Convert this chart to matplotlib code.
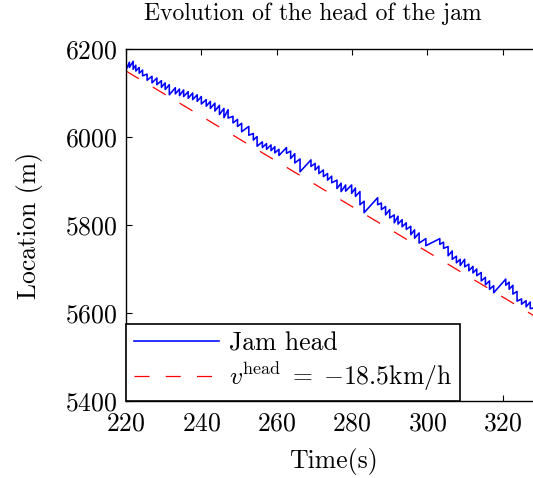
import numpy as np
import matplotlib.pyplot as plt

plt.rcParams['font.family'] = 'serif'
plt.rcParams['font.serif'] = ['cmr10']
plt.rcParams['mathtext.fontset'] = 'cm'
plt.rcParams['axes.formatter.use_mathtext'] = True

# jam head trace: each tooth rises slowly, then drops at t_drop
t_start, loc_start = 220.0, 6152
t_end, loc_end = 328.6, 5612
t_drop = [220.9, 221.9, 222.6, 223.5, 224.4, 225.6, 226.9, 228.2, 229.4, 230.4,
          231.5, 233.1, 234.2, 235.3, 236.5, 237.7, 238.9, 240.0, 241.3, 242.4,
          243.6, 244.8, 246.0, 247.1, 248.4, 249.6, 250.7, 252.6, 253.8, 254.8,
          256.2, 257.3, 258.5, 259.5, 260.6, 262.6, 263.7, 264.8, 266.2, 269.1,
          270.2, 271.2, 272.4, 273.5, 274.6, 276.0, 277.1, 278.3, 279.9, 280.9,
          282.1, 283.2, 286.8, 287.8, 288.9, 290.0, 291.2, 292.2, 293.3, 294.4,
          295.6, 296.6, 297.8, 299.6, 303.3, 304.3, 305.5, 306.6, 307.7, 308.7,
          309.9, 311.0, 312.1, 313.1, 314.3, 315.4, 316.5, 317.6, 320.8, 321.7,
          322.7, 323.8, 325.0, 326.2, 327.3]
loc_top = [6170, 6172, 6163, 6158, 6152, 6143, 6138, 6134, 6128, 6123,
           6119, 6112, 6109, 6107, 6103, 6100, 6096, 6092, 6085, 6081,
           6077, 6072, 6065, 6062, 6047, 6040, 6031, 6024, 6008, 6001,
           5989, 5985, 5982, 5978, 5972, 5976, 5968, 5962, 5950, 5948,
           5940, 5934, 5925, 5917, 5911, 5902, 5895, 5891, 5891, 5884,
           5876, 5854, 5862, 5850, 5842, 5835, 5823, 5820, 5812, 5805,
           5797, 5789, 5782, 5769, 5769, 5761, 5751, 5741, 5729, 5722,
           5722, 5711, 5706, 5700, 5692, 5681, 5673, 5662, 5677, 5670,
           5663, 5649, 5632, 5628, 5625]
loc_low = [6158, 6154, 6150, 6145, 6139, 6129, 6123, 6119, 6113, 6108,
           6096, 6098, 6094, 6092, 6088, 6085, 6081, 6075, 6070, 6065,
           6059, 6051, 6044, 6043, 6032, 6024, 6012, 6004, 5993, 5979,
           5976, 5972, 5969, 5964, 5958, 5963, 5951, 5941, 5921, 5933,
           5925, 5917, 5910, 5902, 5896, 5883, 5876, 5877, 5872, 5865,
           5846, 5828, 5846, 5835, 5823, 5816, 5805, 5802, 5796, 5790,
           5778, 5770, 5759, 5753, 5756, 5747, 5730, 5722, 5714, 5708,
           5705, 5696, 5691, 5685, 5673, 5664, 5654, 5646, 5663, 5654,
           5643, 5627, 5620, 5614, 5610]

# fitted head speed line (-18.5 km/h)
t_fit = [220, 330]
loc_fit = [6150, 5585]

t_head = [t_start]
loc_head = [loc_start]
for tt, hi, lo in zip(t_drop, loc_top, loc_low):
    t_head += [tt, tt]
    loc_head += [hi, lo]
t_head.append(t_end)
loc_head.append(loc_end)

fig = plt.figure(figsize=(5.33, 4.78), dpi=100)
ax = fig.add_axes([126/533, 77/478, 414.4/533, 352/478])

ax.plot(t_head, loc_head, color='#0000ff', lw=1.15, label='Jam head')
ax.plot(t_fit, loc_fit, color='#ff0000', lw=0.9, ls=(0, (12, 13)),
        label=r'$v^{\mathrm{head}} \;=\; {-}18.5\mathrm{km/h}$')

ax.set_xlim(220, 330)
ax.set_ylim(5400, 6200)
ax.set_xticks([220, 240, 260, 280, 300, 320])
ax.set_yticks([5400, 5600, 5800, 6000, 6200])
ax.tick_params(direction='in', top=True, right=True, length=4, width=0.8,
               labelsize=18.5)
ax.tick_params(axis='x', pad=8)
ax.tick_params(axis='y', pad=6)
for s in ax.spines.values():
    s.set_linewidth(1.0)

ax.set_xlabel('Time(s)', fontsize=18.5, labelpad=9)
ax.set_ylabel('Location (m)', fontsize=18.5, labelpad=16)
fig.text(313/533, 1 - 20/478, 'Evolution of the head of the jam',
         ha='center', va='baseline', fontsize=17)

leg = ax.legend(loc='lower left', bbox_to_anchor=(0, 0), borderaxespad=0,
                fontsize=18.5, fancybox=False, framealpha=1, edgecolor='black',
                handlelength=3.3, handletextpad=0.4, labelspacing=0.2,
                borderpad=0.3)
leg.get_frame().set_linewidth(1.2)

fig.savefig('out.png', dpi=100)
